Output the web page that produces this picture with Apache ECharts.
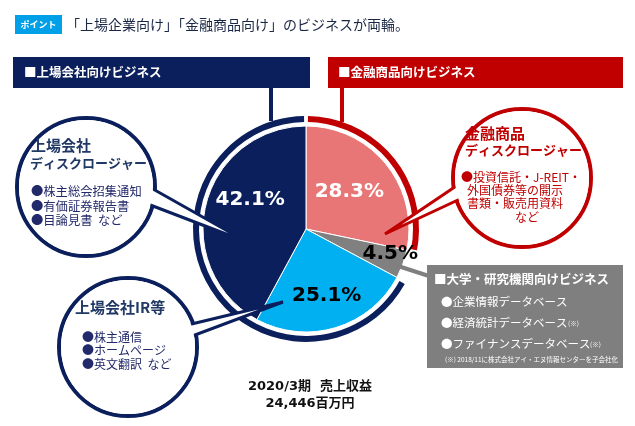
<!DOCTYPE html>
<html><head><meta charset="utf-8">
<script src="https://cdn.jsdelivr.net/npm/echarts@6/dist/echarts.min.js"></script>
<style>html,body{margin:0;padding:0;background:#fff}#c{width:635px;height:426px}</style>
</head><body><div id="c"></div>
<script>
// ---- data ----
const categories = ['金融商品ディスクロージャー', '大学・研究機関向け', '上場会社IR等', '上場会社ディスクロージャー'];
const shares = [28.3, 4.5, 25.1, 42.1];
const ringGroups = ['金融商品向けビジネス', '', '上場会社向けビジネス'];
const ringValues = [shares[0], shares[1], shares[2] + shares[3]];
const titleText = '「上場企業向け」「金融商品向け」のビジネスが両輪。';
const totalLines = ['2020/3期  売上収益', '24,446百万円'];

const NAVY = '#0b1f5c', RED = '#c00000', PINK = '#e87676', GRAY = '#7f7f7f', CYAN = '#00b0f0';
const sliceColors = [PINK, '#808080', CYAN, NAVY];
const labelColors = ['#fff', '#000', '#000', '#fff'];
const labelShift = [[1, -3], [33, 6], [5, 15], [-3, -16]];
const CJK = '"Noto Sans CJK JP", "Noto Sans", sans-serif';

function txt(t, x, y, size, color, weight, align, z) {
  return { type: 'text', z: z || 20, style: { text: t, x: x, y: y, fill: color,
    font: (weight || 'normal') + ' ' + size + 'px ' + CJK,
    textAlign: align || 'left', textVerticalAlign: 'middle' } };
}
function bubble(cx, cy, r, color, tail) {
  return [
    { type: 'circle', z: 10, shape: { cx: cx, cy: cy, r: r }, style: { fill: '#fff', stroke: color, lineWidth: 4 } },
    { type: 'polygon', z: 11, shape: { points: tail }, style: { fill: '#fff', stroke: color, lineWidth: 3 } },
    { type: 'circle', z: 12, shape: { cx: cx, cy: cy, r: r - 2 }, style: { fill: '#fff' } }
  ];
}

const elements = [
  // title
  { type: 'rect', z: 10, shape: { x: 15, y: 15, width: 47, height: 19 }, style: { fill: '#00a0e9' } },
  txt('ポイント', 38.5, 24.5, 9, '#fff', 'bold', 'center'),
  txt(titleText, 66, 24.5, 14, '#1a2744', 'normal'),
  // headers
  { type: 'rect', z: 10, shape: { x: 13, y: 57, width: 297, height: 31 }, style: { fill: NAVY } },
  { type: 'rect', z: 10, shape: { x: 328, y: 57, width: 295, height: 31 }, style: { fill: RED } },
  txt('■上場会社向けビジネス', 24, 72, 12.5, '#fff', 'bold'),
  txt('■金融商品向けビジネス', 338, 72, 12.5, '#fff', 'bold'),
  { type: 'line', z: 10, shape: { x1: 271, y1: 87, x2: 271, y2: 121 }, style: { stroke: NAVY, lineWidth: 4 } },
  { type: 'line', z: 10, shape: { x1: 342, y1: 87, x2: 342, y2: 122 }, style: { stroke: RED, lineWidth: 4 } },
  // gray box
  { type: 'line', z: 10, shape: { x1: 398, y1: 266, x2: 432, y2: 277 }, style: { stroke: GRAY, lineWidth: 4 } },
  { type: 'rect', z: 10, shape: { x: 427, y: 265, width: 196, height: 103 }, style: { fill: GRAY } },
  txt('■大学・研究機関向けビジネス', 434, 279, 12.5, '#fff', 'bold'),
  txt('●企業情報データベース', 441, 302, 11.5, '#fff'),
  txt('●経済統計データベース', 441, 323, 11.5, '#fff'),
  txt('(※)', 568, 324, 6.5, '#fff'),
  txt('●ファイナンスデータベース', 441, 344, 11.5, '#fff'),
  txt('(※)', 590, 345, 6.5, '#fff'),
  txt('(※) 2018/11に株式会社アイ・エヌ情報センターを子会社化', 445, 360, 6.5, '#fff'),
  // totals
  { type: 'text', z: 20, style: { text: totalLines[0], x: 310, y: 387, fill: '#111', font: 'bold 13px "DejaVu Sans", ' + CJK, textAlign: 'center', textVerticalAlign: 'middle' } },
  { type: 'text', z: 20, style: { text: totalLines[1], x: 310, y: 404, fill: '#111', font: 'bold 13px "DejaVu Sans", ' + CJK, textAlign: 'center', textVerticalAlign: 'middle' } }
];

elements.push.apply(elements, bubble(86, 187, 69, NAVY, [[137, 180], [247, 242], [132, 198]]));
elements.push(
  txt('上場会社', 31, 145, 15, '#203864', 'bold'),
  txt('ディスクロージャー', 30, 163, 13, '#203864', 'bold'),
  txt('●株主総会招集通知', 31, 191, 12.3, '#232a6b'),
  txt('●有価証券報告書', 31, 206, 12.3, '#232a6b'),
  txt('●目論見書  など', 31, 220, 12.3, '#232a6b')
);
elements.push.apply(elements, bubble(128, 347, 69, NAVY, [[175, 328], [283, 302], [179, 341]]));
elements.push(
  txt('上場会社IR等', 75, 307, 15, '#203864', 'bold'),
  txt('●株主通信', 82, 337, 12, '#232a6b'),
  txt('●ホームページ', 82, 350, 12, '#232a6b'),
  txt('●英文翻訳  など', 82, 364, 12, '#232a6b')
);
elements.push.apply(elements, bubble(522, 178, 69, RED, [[477, 172], [385, 234], [475, 192]]));
elements.push(
  txt('金融商品', 465, 133, 15, RED, 'bold'),
  txt('ディスクロージャー', 465, 150, 13, RED, 'bold'),
  txt('●投資信託・J-REIT・', 461, 177, 12, RED),
  txt('外国債券等の開示', 467, 190, 12, RED),
  txt('書類・販売用資料', 467, 203, 12, RED),
  txt('など', 515, 217, 12, RED)
);

const chart = echarts.init(document.getElementById('c'), null, { renderer: 'canvas' });
chart.setOption({
  animation: false,
  series: [
    {
      type: 'pie', center: [306, 229], radius: [0, 103], startAngle: 90, clockwise: true, silent: true, z: 2,
      itemStyle: { borderColor: '#fff', borderWidth: 1 },
      data: categories.map((c, i) => ({ name: c, value: shares[i], itemStyle: { color: sliceColors[i] }, label: { color: labelColors[i] } })),
      label: { show: true, position: 'inside', formatter: p => p.value.toFixed(1) + '%', fontFamily: 'DejaVu Sans', fontWeight: 'bold', fontSize: 20 },
      labelLine: { show: false },
      labelLayout: p => ({ dx: labelShift[p.dataIndex][0], dy: labelShift[p.dataIndex][1] })
    },
    {
      type: 'pie', center: [306, 229], radius: [107, 113], startAngle: 90, clockwise: true, silent: true, z: 2, padAngle: 2,
      label: { show: false }, labelLine: { show: false },
      data: ringGroups.map((g, i) => ({ name: g, value: ringValues[i], itemStyle: { color: [RED, 'rgba(0,0,0,0)', NAVY][i] } }))
    }
  ],
  graphic: { elements: elements }
});
</script></body></html>
